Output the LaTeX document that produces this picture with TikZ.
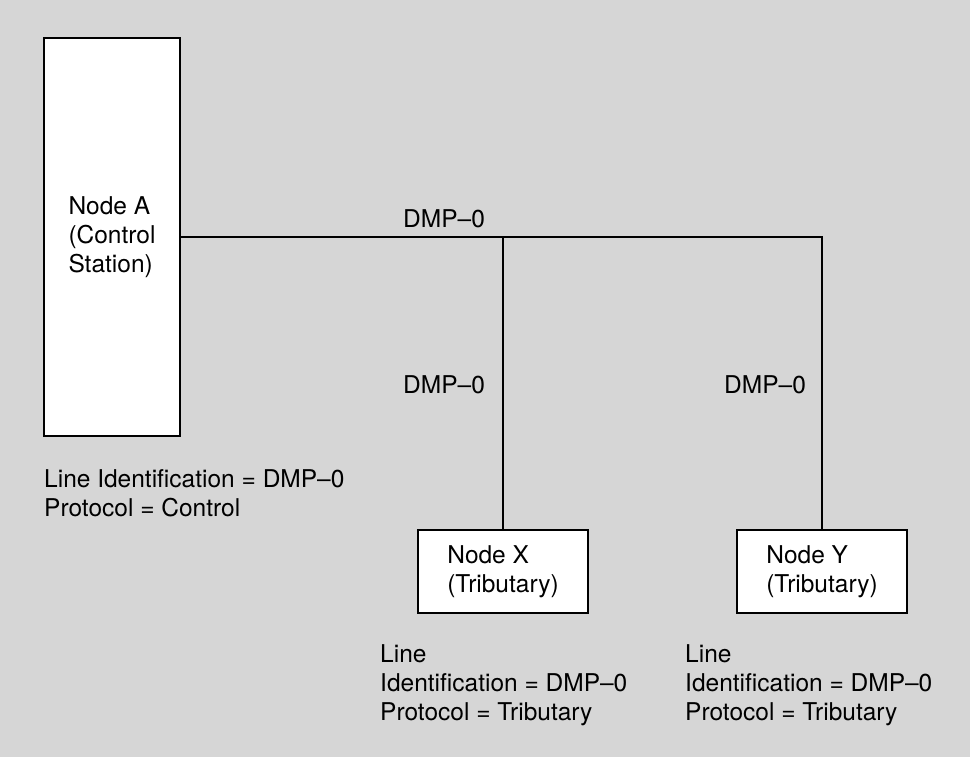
\documentclass[tikz,border=0pt]{standalone}
\usepackage{fontspec}
\setmainfont{TeX Gyre Heros}
\usepackage{xcolor}
\definecolor{halftone}{gray}{0.84}

\begin{document}
\begin{tikzpicture}[
      x=1pt, y=-1pt,
      every node/.style={font=\fontsize{24.5}{29}\selectfont},
      station/.style={draw, line width=2.4pt, fill=white, align=left, inner sep=0pt},
      caption/.style={anchor=north west, align=left, inner sep=0pt},
      tag/.style={anchor=base west, inner sep=0pt},
      link/.style={line width=1.6pt}
    ]
    \fill[halftone] (0,0) rectangle (970,757);
    \useasboundingbox (0,0) rectangle (970,757);
    \node[station, minimum width=136pt, minimum height=398pt] (A) at (112,237) {Node A\\(Control\\Station)};
    \node[station, minimum width=170pt, minimum height=83pt] (X) at (503,571.5) {Node X\\(Tributary)};
    \node[station, minimum width=170pt, minimum height=83pt] (Y) at (822,571.5) {Node Y\\(Tributary)};
    \coordinate (tee) at (X.north |- A.east);
    \draw[link] (A.east) -| (Y.north);
    \draw[link] (tee) -- (X.north);
    \node[tag] (busid) at (403,228) {DMP–0};
    \node[tag] (xid) at (403,393) {DMP–0};
    \node[tag] (yid) at (724,393) {DMP–0};
    \node[caption] (capA) at (44,469) {Line Identification = DMP–0\\Protocol = Control};
    \node[caption] (capX) at (380,644) {Line\\Identification = DMP–0\\Protocol = Tributary};
    \node[caption] (capY) at (685,644) {Line\\Identification = DMP–0\\Protocol = Tributary};
\end{tikzpicture}
\end{document}
